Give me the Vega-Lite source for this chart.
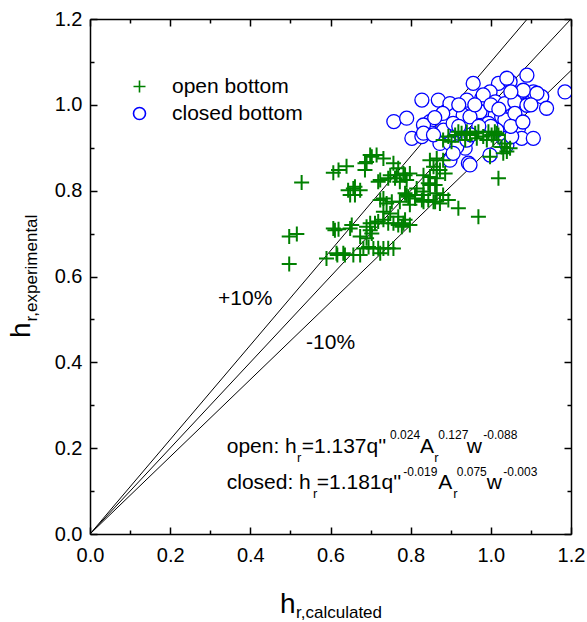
{
  "$schema": "https://vega.github.io/schema/vega-lite/v6.json",
  "width": 481,
  "height": 515,
  "autosize": "none",
  "padding": {"left": 90, "top": 19, "right": 16, "bottom": 88},
  "background": "white",
  "config": {"font": "Liberation Sans", "view": {"stroke": null}},
  "datasets": {
    "lines": [
      {"line": "plus10", "x": 0, "y": 0}, {"line": "plus10", "x": 1.0909, "y": 1.2},
      {"line": "equal", "x": 0, "y": 0}, {"line": "equal", "x": 1.2, "y": 1.2},
      {"line": "minus10", "x": 0, "y": 0}, {"line": "minus10", "x": 1.2, "y": 1.08}
    ],
    "closed": [
      {"x":0.758,"y":0.961,"s":"closed bottom"},{"x":0.790,"y":0.969,"s":"closed bottom"},{"x":0.828,"y":1.011,"s":"closed bottom"},{"x":0.869,"y":1.011,"s":"closed bottom"},{"x":0.898,"y":1.003,"s":"closed bottom"},{"x":0.940,"y":1.011,"s":"closed bottom"},{"x":0.956,"y":1.050,"s":"closed bottom"},{"x":0.977,"y":1.015,"s":"closed bottom"},{"x":0.848,"y":0.961,"s":"closed bottom"},{"x":0.911,"y":0.976,"s":"closed bottom"},{"x":0.931,"y":0.976,"s":"closed bottom"},{"x":0.961,"y":0.972,"s":"closed bottom"},{"x":0.973,"y":0.972,"s":"closed bottom"},{"x":0.986,"y":0.972,"s":"closed bottom"},{"x":0.994,"y":0.972,"s":"closed bottom"},{"x":0.803,"y":0.922,"s":"closed bottom"},{"x":0.828,"y":0.926,"s":"closed bottom"},{"x":0.853,"y":0.934,"s":"closed bottom"},{"x":0.882,"y":0.941,"s":"closed bottom"},{"x":0.873,"y":0.910,"s":"closed bottom"},{"x":0.911,"y":0.910,"s":"closed bottom"},{"x":0.936,"y":0.899,"s":"closed bottom"},{"x":0.944,"y":0.864,"s":"closed bottom"},{"x":0.906,"y":0.957,"s":"closed bottom"},{"x":0.832,"y":0.953,"s":"closed bottom"},
      {"x":1.090,"y":1.069,"s":"closed bottom"},{"x":1.019,"y":1.050,"s":"closed bottom"},{"x":1.048,"y":1.054,"s":"closed bottom"},{"x":0.998,"y":1.030,"s":"closed bottom"},{"x":0.981,"y":1.023,"s":"closed bottom"},{"x":1.077,"y":1.030,"s":"closed bottom"},{"x":1.106,"y":1.030,"s":"closed bottom"},{"x":1.127,"y":1.019,"s":"closed bottom"},{"x":1.185,"y":1.030,"s":"closed bottom"},{"x":1.011,"y":1.007,"s":"closed bottom"},{"x":1.035,"y":1.003,"s":"closed bottom"},{"x":1.060,"y":1.007,"s":"closed bottom"},{"x":1.090,"y":0.999,"s":"closed bottom"},{"x":1.139,"y":0.992,"s":"closed bottom"},{"x":1.011,"y":0.976,"s":"closed bottom"},{"x":1.027,"y":0.972,"s":"closed bottom"},{"x":1.040,"y":0.961,"s":"closed bottom"},{"x":1.069,"y":0.945,"s":"closed bottom"},{"x":1.077,"y":0.922,"s":"closed bottom"},{"x":1.106,"y":0.922,"s":"closed bottom"},{"x":0.998,"y":0.883,"s":"closed bottom"},{"x":0.973,"y":0.984,"s":"closed bottom"},
      {"x":1.040,"y":1.062,"s":"closed bottom"},{"x":1.081,"y":1.034,"s":"closed bottom"},{"x":1.115,"y":1.027,"s":"closed bottom"},{"x":1.035,"y":0.965,"s":"closed bottom"},{"x":0.898,"y":0.910,"s":"closed bottom"},{"x":0.915,"y":0.902,"s":"closed bottom"},{"x":0.940,"y":0.918,"s":"closed bottom"},{"x":0.948,"y":0.860,"s":"closed bottom"},{"x":0.898,"y":0.871,"s":"closed bottom"},{"x":1.031,"y":0.922,"s":"closed bottom"},{"x":0.994,"y":0.957,"s":"closed bottom"},{"x":1.015,"y":0.941,"s":"closed bottom"},{"x":0.948,"y":0.972,"s":"closed bottom"},
      {"x":0.832,"y":0.934,"s":"closed bottom"},{"x":0.857,"y":0.930,"s":"closed bottom"},{"x":0.906,"y":0.887,"s":"closed bottom"},{"x":1.040,"y":0.906,"s":"closed bottom"},{"x":1.052,"y":0.926,"s":"closed bottom"},
      {"x":1.000,"y":1.000,"s":"closed bottom"},{"x":0.960,"y":1.000,"s":"closed bottom"},{"x":1.050,"y":1.030,"s":"closed bottom"},{"x":1.020,"y":0.990,"s":"closed bottom"},{"x":1.060,"y":0.980,"s":"closed bottom"},{"x":1.000,"y":0.950,"s":"closed bottom"},{"x":0.970,"y":0.950,"s":"closed bottom"},{"x":0.920,"y":0.950,"s":"closed bottom"},{"x":0.880,"y":0.980,"s":"closed bottom"},{"x":0.860,"y":0.970,"s":"closed bottom"},{"x":0.950,"y":0.930,"s":"closed bottom"},{"x":1.050,"y":0.950,"s":"closed bottom"},{"x":1.080,"y":0.960,"s":"closed bottom"},{"x":1.100,"y":1.000,"s":"closed bottom"},{"x":0.920,"y":1.000,"s":"closed bottom"}
    ],
    "open": [
      {"x":0.528,"y":0.819,"s":"open bottom"},{"x":0.497,"y":0.693,"s":"open bottom"},{"x":0.516,"y":0.699,"s":"open bottom"},{"x":0.497,"y":0.629,"s":"open bottom"},{"x":0.590,"y":0.642,"s":"open bottom"},{"x":0.611,"y":0.708,"s":"open bottom"},{"x":0.617,"y":0.650,"s":"open bottom"},{"x":0.607,"y":0.842,"s":"open bottom"},{"x":0.620,"y":0.848,"s":"open bottom"},{"x":0.640,"y":0.857,"s":"open bottom"},{"x":0.657,"y":0.805,"s":"open bottom"},{"x":0.644,"y":0.801,"s":"open bottom"},{"x":0.661,"y":0.790,"s":"open bottom"},{"x":0.690,"y":0.867,"s":"open bottom"},{"x":0.703,"y":0.879,"s":"open bottom"},{"x":0.732,"y":0.875,"s":"open bottom"},{"x":0.757,"y":0.864,"s":"open bottom"},{"x":0.724,"y":0.825,"s":"open bottom"},{"x":0.744,"y":0.829,"s":"open bottom"},{"x":0.765,"y":0.836,"s":"open bottom"},{"x":0.782,"y":0.840,"s":"open bottom"},{"x":0.798,"y":0.840,"s":"open bottom"},{"x":0.732,"y":0.782,"s":"open bottom"},{"x":0.753,"y":0.774,"s":"open bottom"},{"x":0.653,"y":0.720,"s":"open bottom"},{"x":0.690,"y":0.716,"s":"open bottom"},{"x":0.711,"y":0.724,"s":"open bottom"},{"x":0.732,"y":0.732,"s":"open bottom"},{"x":0.757,"y":0.724,"s":"open bottom"},{"x":0.782,"y":0.724,"s":"open bottom"},{"x":0.798,"y":0.720,"s":"open bottom"},{"x":0.690,"y":0.689,"s":"open bottom"},{"x":0.703,"y":0.700,"s":"open bottom"},{"x":0.682,"y":0.665,"s":"open bottom"},{"x":0.707,"y":0.665,"s":"open bottom"},{"x":0.732,"y":0.665,"s":"open bottom"},{"x":0.757,"y":0.665,"s":"open bottom"},{"x":0.632,"y":0.654,"s":"open bottom"},{"x":0.657,"y":0.650,"s":"open bottom"},{"x":0.724,"y":0.654,"s":"open bottom"},{"x":0.832,"y":0.790,"s":"open bottom"},{"x":0.848,"y":0.813,"s":"open bottom"},{"x":0.848,"y":0.871,"s":"open bottom"},{"x":0.865,"y":0.848,"s":"open bottom"},{"x":0.790,"y":0.790,"s":"open bottom"},{"x":0.811,"y":0.790,"s":"open bottom"},{"x":0.832,"y":0.774,"s":"open bottom"},{"x":0.857,"y":0.774,"s":"open bottom"},{"x":0.798,"y":0.767,"s":"open bottom"},
      {"x":0.699,"y":0.883,"s":"open bottom"},{"x":0.715,"y":0.883,"s":"open bottom"},{"x":0.686,"y":0.864,"s":"open bottom"},{"x":0.686,"y":0.848,"s":"open bottom"},{"x":0.661,"y":0.809,"s":"open bottom"},{"x":0.674,"y":0.801,"s":"open bottom"},{"x":0.649,"y":0.790,"s":"open bottom"},{"x":0.719,"y":0.821,"s":"open bottom"},{"x":0.749,"y":0.836,"s":"open bottom"},{"x":0.769,"y":0.852,"s":"open bottom"},{"x":0.790,"y":0.825,"s":"open bottom"},{"x":0.724,"y":0.778,"s":"open bottom"},{"x":0.740,"y":0.770,"s":"open bottom"},{"x":0.773,"y":0.774,"s":"open bottom"},{"x":0.786,"y":0.794,"s":"open bottom"},{"x":0.732,"y":0.751,"s":"open bottom"},{"x":0.749,"y":0.747,"s":"open bottom"},{"x":0.607,"y":0.712,"s":"open bottom"},{"x":0.620,"y":0.710,"s":"open bottom"},{"x":0.649,"y":0.712,"s":"open bottom"},{"x":0.674,"y":0.693,"s":"open bottom"},{"x":0.699,"y":0.724,"s":"open bottom"},{"x":0.719,"y":0.728,"s":"open bottom"},{"x":0.744,"y":0.724,"s":"open bottom"},{"x":0.769,"y":0.720,"s":"open bottom"},{"x":0.699,"y":0.708,"s":"open bottom"},{"x":0.615,"y":0.654,"s":"open bottom"},{"x":0.636,"y":0.650,"s":"open bottom"},{"x":0.674,"y":0.650,"s":"open bottom"},{"x":0.695,"y":0.669,"s":"open bottom"},{"x":0.719,"y":0.666,"s":"open bottom"},{"x":0.744,"y":0.666,"s":"open bottom"},
      {"x":0.881,"y":0.918,"s":"open bottom"},{"x":0.894,"y":0.926,"s":"open bottom"},{"x":0.911,"y":0.930,"s":"open bottom"},{"x":0.919,"y":0.937,"s":"open bottom"},{"x":0.927,"y":0.934,"s":"open bottom"},{"x":0.940,"y":0.937,"s":"open bottom"},{"x":0.948,"y":0.930,"s":"open bottom"},{"x":0.961,"y":0.934,"s":"open bottom"},{"x":0.969,"y":0.937,"s":"open bottom"},{"x":0.981,"y":0.926,"s":"open bottom"},{"x":0.994,"y":0.937,"s":"open bottom"},{"x":1.002,"y":0.930,"s":"open bottom"},{"x":1.015,"y":0.934,"s":"open bottom"},{"x":0.902,"y":0.914,"s":"open bottom"},{"x":0.936,"y":0.918,"s":"open bottom"},{"x":0.965,"y":0.922,"s":"open bottom"},{"x":0.990,"y":0.918,"s":"open bottom"},{"x":1.006,"y":0.918,"s":"open bottom"},{"x":0.998,"y":0.879,"s":"open bottom"},{"x":1.027,"y":0.902,"s":"open bottom"},{"x":1.040,"y":0.891,"s":"open bottom"},{"x":1.035,"y":0.910,"s":"open bottom"},{"x":1.019,"y":0.829,"s":"open bottom"},{"x":0.919,"y":0.759,"s":"open bottom"},{"x":0.969,"y":0.739,"s":"open bottom"},
      {"x":0.865,"y":0.875,"s":"open bottom"},{"x":0.881,"y":0.871,"s":"open bottom"},{"x":0.857,"y":0.856,"s":"open bottom"},{"x":0.873,"y":0.848,"s":"open bottom"},{"x":0.886,"y":0.840,"s":"open bottom"},{"x":0.832,"y":0.836,"s":"open bottom"},{"x":0.848,"y":0.832,"s":"open bottom"},{"x":0.865,"y":0.829,"s":"open bottom"},{"x":0.844,"y":0.817,"s":"open bottom"},{"x":0.861,"y":0.813,"s":"open bottom"},{"x":0.786,"y":0.836,"s":"open bottom"},{"x":0.761,"y":0.829,"s":"open bottom"},{"x":0.773,"y":0.821,"s":"open bottom"},{"x":0.815,"y":0.805,"s":"open bottom"},{"x":0.832,"y":0.798,"s":"open bottom"},{"x":0.865,"y":0.794,"s":"open bottom"},{"x":0.881,"y":0.790,"s":"open bottom"},{"x":0.894,"y":0.778,"s":"open bottom"},{"x":0.794,"y":0.786,"s":"open bottom"},{"x":0.811,"y":0.782,"s":"open bottom"},{"x":0.828,"y":0.778,"s":"open bottom"},{"x":0.844,"y":0.778,"s":"open bottom"},{"x":0.861,"y":0.774,"s":"open bottom"},{"x":0.873,"y":0.770,"s":"open bottom"},{"x":0.769,"y":0.739,"s":"open bottom"},{"x":0.786,"y":0.732,"s":"open bottom"},{"x":0.778,"y":0.716,"s":"open bottom"},{"x":1.010,"y":0.937,"s":"open bottom"},{"x":1.019,"y":0.930,"s":"open bottom"},{"x":1.048,"y":0.899,"s":"open bottom"},{"x":1.031,"y":0.887,"s":"open bottom"}
    ],
    "bands": [
      {"x": 0.3194, "y": 0.5336, "t": "+10%"},
      {"x": 0.539, "y": 0.431, "t": "-10%"}
    ],
    "eqMain": [
      {"x": 0.3411, "y": 0.1887, "t": "open: h"},
      {"x": 0.5282, "y": 0.1887, "t": "=1.137q''"},
      {"x": 0.8234, "y": 0.1887, "t": "A"},
      {"x": 0.9399, "y": 0.1887, "t": "w"},
      {"x": 0.3411, "y": 0.1041, "t": "closed: h"},
      {"x": 0.5656, "y": 0.1041, "t": "=1.181q''"},
      {"x": 0.8690, "y": 0.1041, "t": "A"},
      {"x": 0.9898, "y": 0.1041, "t": "w"}
    ],
    "eqSup": [
      {"x": 0.7485, "y": 0.2206, "t": "0.024"},
      {"x": 0.8690, "y": 0.2206, "t": "0.127"},
      {"x": 0.9813, "y": 0.2206, "t": "-0.088"},
      {"x": 0.7817, "y": 0.1340, "t": "-0.019"},
      {"x": 0.9149, "y": 0.1340, "t": "0.075"},
      {"x": 1.0312, "y": 0.1340, "t": "-0.003"}
    ],
    "eqSub": [
      {"x": 0.5165, "y": 0.1677, "t": "r"},
      {"x": 0.8590, "y": 0.1677, "t": "r"},
      {"x": 0.5564, "y": 0.0839, "t": "r"},
      {"x": 0.9064, "y": 0.0839, "t": "r"}
    ],
    "xTitleMain": [{"x": 0.474, "y": -0.1841, "t": "h"}],
    "xTitleSub": [{"x": 0.514, "y": -0.1957, "t": "r,calculated"}],
    "yTitleMain": [{"x": -0.1497, "y": 0.4567, "t": "h"}],
    "yTitleSub": [{"x": -0.1322, "y": 0.4953, "t": "r,experimental"}]
  },
  "layer": [
    {
      "data": {"name": "lines"},
      "mark": {"type": "line", "color": "black", "strokeWidth": 1, "clip": true},
      "encoding": {
        "x": {
          "field": "x", "type": "quantitative",
          "scale": {"domain": [0, 1.2], "nice": false, "zero": false},
          "axis": {
            "orient": "bottom", "title": null, "grid": false,
            "values": [0, 0.1, 0.2, 0.3, 0.4, 0.5, 0.6, 0.7, 0.8, 0.9, 1.0, 1.1, 1.2],
            "labelExpr": "round(datum.value*10)%2==0 ? format(datum.value,'.1f') : ''",
            "tickSize": {"condition": {"test": "round(datum.value*10)%2==1", "value": -4}, "value": -7},
            "labelPadding": 18, "labelFlush": false, "labelOverlap": false,
            "labelFontSize": 20, "labelFont": "Liberation Sans", "labelColor": "black",
            "domainColor": "black", "domainWidth": 1.5, "tickColor": "black", "tickWidth": 1.5
          }
        },
        "y": {
          "field": "y", "type": "quantitative",
          "scale": {"domain": [0, 1.2], "nice": false, "zero": false},
          "axis": {
            "orient": "left", "title": null, "grid": false,
            "values": [0, 0.1, 0.2, 0.3, 0.4, 0.5, 0.6, 0.7, 0.8, 0.9, 1.0, 1.1, 1.2],
            "labelExpr": "round(datum.value*10)%2==0 ? format(datum.value,'.1f') : ''",
            "tickSize": {"condition": {"test": "round(datum.value*10)%2==1", "value": -4}, "value": -7},
            "labelPadding": 15, "labelFlush": false, "labelOverlap": false,
            "labelFontSize": 20, "labelFont": "Liberation Sans", "labelColor": "black",
            "domainColor": "black", "domainWidth": 1.5, "tickColor": "black", "tickWidth": 1.5
          }
        },
        "detail": {"field": "line"}
      }
    },
    {
      "data": {"name": "closed"},
      "mark": {"type": "point", "filled": false, "fill": "white", "fillOpacity": 1, "size": 196, "strokeWidth": 1.3, "opacity": 1, "clip": true},
      "encoding": {
        "x": {
          "field": "x", "type": "quantitative",
          "scale": {"domain": [0, 1.2], "nice": false, "zero": false},
          "axis": {
            "orient": "top", "title": null, "grid": false, "labels": false,
            "values": [0, 0.1, 0.2, 0.3, 0.4, 0.5, 0.6, 0.7, 0.8, 0.9, 1.0, 1.1, 1.2],
            "tickSize": {"condition": {"test": "round(datum.value*10)%2==1", "value": -4}, "value": -7},
            "domainColor": "black", "domainWidth": 1.5, "tickColor": "black", "tickWidth": 1.5
          }
        },
        "y": {
          "field": "y", "type": "quantitative",
          "scale": {"domain": [0, 1.2], "nice": false, "zero": false},
          "axis": {
            "orient": "right", "title": null, "grid": false, "labels": false,
            "values": [0, 0.1, 0.2, 0.3, 0.4, 0.5, 0.6, 0.7, 0.8, 0.9, 1.0, 1.1, 1.2],
            "tickSize": {"condition": {"test": "round(datum.value*10)%2==1", "value": -4}, "value": -7},
            "domainColor": "black", "domainWidth": 1.5, "tickColor": "black", "tickWidth": 1.5
          }
        },
        "stroke": {
          "field": "s", "type": "nominal",
          "scale": {"domain": ["open bottom", "closed bottom"], "range": ["#008000", "#0000ff"]},
          "legend": {"orient": "none", "legendX": 39, "legendY": 57, "title": null, "padding": 0, "labelFontSize": 21, "labelFont": "Liberation Sans", "labelColor": "black", "symbolSize": 144, "symbolStrokeWidth": 1.6, "labelOffset": 22, "rowPadding": 5}
        },
        "shape": {
          "field": "s", "type": "nominal",
          "scale": {"domain": ["open bottom", "closed bottom"], "range": ["M-1,0H1M0,-1V1", "circle"]},
          "legend": {"orient": "none", "legendX": 39, "legendY": 57, "title": null, "padding": 0, "labelFontSize": 21, "labelFont": "Liberation Sans", "labelColor": "black", "symbolSize": 144, "symbolStrokeWidth": 1.6, "labelOffset": 22, "rowPadding": 5}
        }
      }
    },
    {
      "data": {"name": "open"},
      "mark": {"type": "point", "filled": false, "size": 225, "strokeWidth": 2, "opacity": 1, "clip": true},
      "encoding": {
        "x": {"field": "x", "type": "quantitative", "scale": {"domain": [0, 1.2], "nice": false, "zero": false}, "axis": null},
        "y": {"field": "y", "type": "quantitative", "scale": {"domain": [0, 1.2], "nice": false, "zero": false}, "axis": null},
        "stroke": {
          "field": "s", "type": "nominal",
          "scale": {"domain": ["open bottom", "closed bottom"], "range": ["#008000", "#0000ff"]},
          "legend": {"orient": "none", "legendX": 39, "legendY": 57, "title": null, "padding": 0, "labelFontSize": 21, "labelFont": "Liberation Sans", "labelColor": "black", "symbolSize": 144, "symbolStrokeWidth": 1.6, "labelOffset": 22, "rowPadding": 5}
        },
        "shape": {
          "field": "s", "type": "nominal",
          "scale": {"domain": ["open bottom", "closed bottom"], "range": ["M-1,0H1M0,-1V1", "circle"]},
          "legend": {"orient": "none", "legendX": 39, "legendY": 57, "title": null, "padding": 0, "labelFontSize": 21, "labelFont": "Liberation Sans", "labelColor": "black", "symbolSize": 144, "symbolStrokeWidth": 1.6, "labelOffset": 22, "rowPadding": 5}
        }
      }
    },
    {
      "data": {"name": "bands"},
      "mark": {"type": "text", "align": "left", "baseline": "alphabetic", "fontSize": 21, "font": "Liberation Sans", "color": "black"},
      "encoding": {
        "x": {"field": "x", "type": "quantitative", "scale": {"domain": [0, 1.2], "nice": false, "zero": false}, "axis": null},
        "y": {"field": "y", "type": "quantitative", "scale": {"domain": [0, 1.2], "nice": false, "zero": false}, "axis": null},
        "text": {"field": "t"}
      }
    },
    {
      "data": {"name": "eqMain"},
      "mark": {"type": "text", "align": "left", "baseline": "alphabetic", "fontSize": 21, "font": "Liberation Sans", "color": "black"},
      "encoding": {
        "x": {"field": "x", "type": "quantitative", "scale": {"domain": [0, 1.2], "nice": false, "zero": false}, "axis": null},
        "y": {"field": "y", "type": "quantitative", "scale": {"domain": [0, 1.2], "nice": false, "zero": false}, "axis": null},
        "text": {"field": "t"}
      }
    },
    {
      "data": {"name": "eqSup"},
      "mark": {"type": "text", "align": "left", "baseline": "alphabetic", "fontSize": 12, "font": "Liberation Sans", "color": "black"},
      "encoding": {
        "x": {"field": "x", "type": "quantitative", "scale": {"domain": [0, 1.2], "nice": false, "zero": false}, "axis": null},
        "y": {"field": "y", "type": "quantitative", "scale": {"domain": [0, 1.2], "nice": false, "zero": false}, "axis": null},
        "text": {"field": "t"}
      }
    },
    {
      "data": {"name": "eqSub"},
      "mark": {"type": "text", "align": "left", "baseline": "alphabetic", "fontSize": 13, "font": "Liberation Sans", "color": "black"},
      "encoding": {
        "x": {"field": "x", "type": "quantitative", "scale": {"domain": [0, 1.2], "nice": false, "zero": false}, "axis": null},
        "y": {"field": "y", "type": "quantitative", "scale": {"domain": [0, 1.2], "nice": false, "zero": false}, "axis": null},
        "text": {"field": "t"}
      }
    },
    {
      "data": {"name": "xTitleMain"},
      "mark": {"type": "text", "align": "left", "baseline": "alphabetic", "fontSize": 28, "font": "Liberation Sans", "color": "black"},
      "encoding": {
        "x": {"field": "x", "type": "quantitative", "scale": {"domain": [0, 1.2], "nice": false, "zero": false}, "axis": null},
        "y": {"field": "y", "type": "quantitative", "scale": {"domain": [0, 1.2], "nice": false, "zero": false}, "axis": null},
        "text": {"field": "t"}
      }
    },
    {
      "data": {"name": "xTitleSub"},
      "mark": {"type": "text", "align": "left", "baseline": "alphabetic", "fontSize": 17, "font": "Liberation Sans", "color": "black"},
      "encoding": {
        "x": {"field": "x", "type": "quantitative", "scale": {"domain": [0, 1.2], "nice": false, "zero": false}, "axis": null},
        "y": {"field": "y", "type": "quantitative", "scale": {"domain": [0, 1.2], "nice": false, "zero": false}, "axis": null},
        "text": {"field": "t"}
      }
    },
    {
      "data": {"name": "yTitleMain"},
      "mark": {"type": "text", "align": "left", "baseline": "alphabetic", "angle": 270, "fontSize": 28, "font": "Liberation Sans", "color": "black"},
      "encoding": {
        "x": {"field": "x", "type": "quantitative", "scale": {"domain": [0, 1.2], "nice": false, "zero": false}, "axis": null},
        "y": {"field": "y", "type": "quantitative", "scale": {"domain": [0, 1.2], "nice": false, "zero": false}, "axis": null},
        "text": {"field": "t"}
      }
    },
    {
      "data": {"name": "yTitleSub"},
      "mark": {"type": "text", "align": "left", "baseline": "alphabetic", "angle": 270, "fontSize": 17, "font": "Liberation Sans", "color": "black"},
      "encoding": {
        "x": {"field": "x", "type": "quantitative", "scale": {"domain": [0, 1.2], "nice": false, "zero": false}, "axis": null},
        "y": {"field": "y", "type": "quantitative", "scale": {"domain": [0, 1.2], "nice": false, "zero": false}, "axis": null},
        "text": {"field": "t"}
      }
    }
  ],
  "resolve": {"axis": {"x": "independent", "y": "independent"}}
}
